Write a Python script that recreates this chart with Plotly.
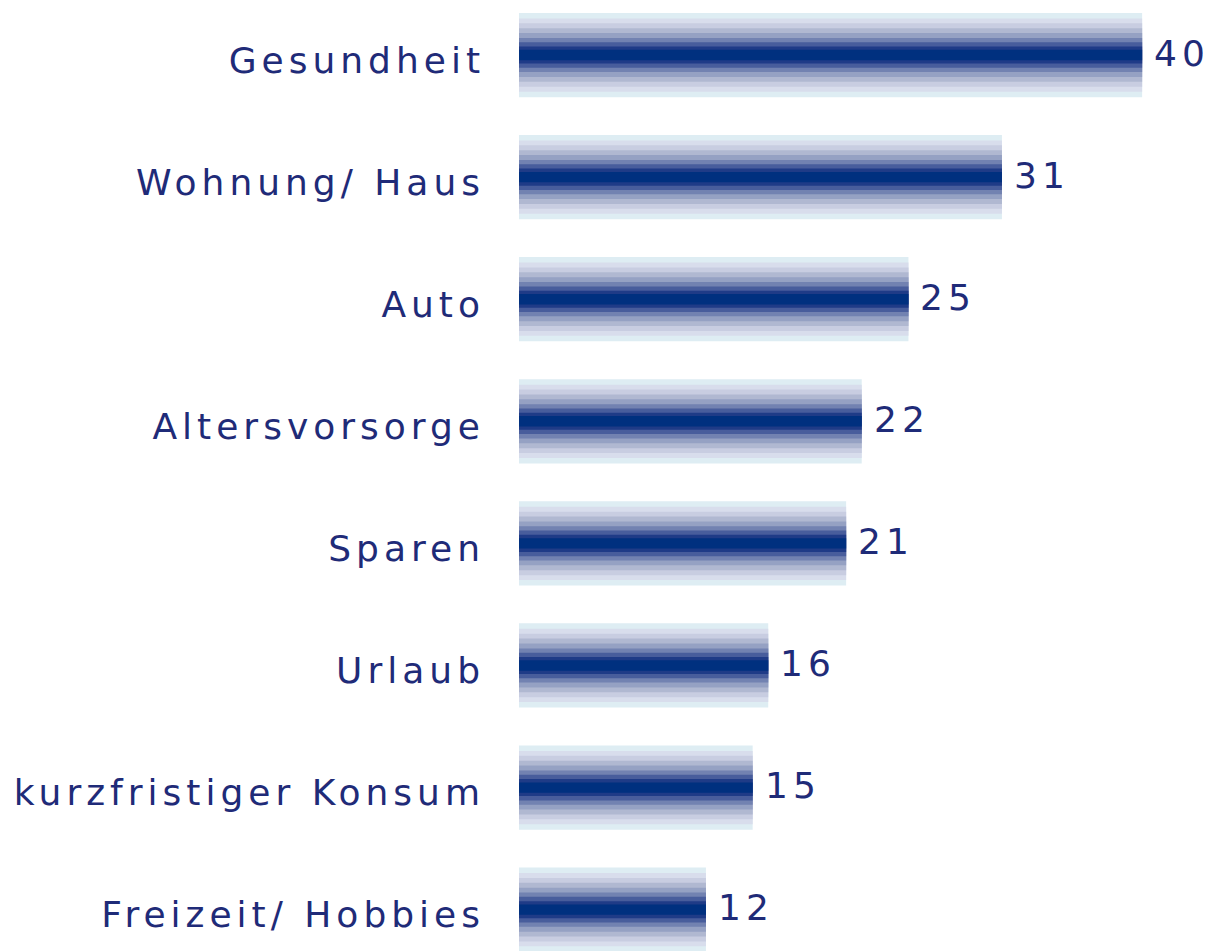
import plotly.graph_objects as go

categories = ["Gesundheit", "Wohnung/ Haus", "Auto", "Altersvorsorge", "Sparen",
              "Urlaub", "kurzfristiger Konsum", "Freizeit/ Hobbies"]
values = [40, 31, 25, 22, 21, 16, 15, 12]

# gradient layers (outer -> inner)
layer_widths = [0.69, 0.60, 0.52, 0.44, 0.36, 0.28, 0.21, 0.14, 0.085]
layer_colors = ["#deedf3", "#d8ddec", "#c8cde1", "#b0b8d1", "#95a1c3",
                "#7282b1", "#485d9c", "#1f3b87", "#00307f"]

TEXT = "#1f2b78"
FONT = "DejaVu Sans"

fig = go.Figure()
for w, c in zip(layer_widths, layer_colors):
    fig.add_trace(go.Bar(
        x=values, y=categories, orientation="h",
        width=w, marker=dict(color=c, line=dict(width=0)),
        hoverinfo="skip", showlegend=False,
    ))

for v, cat in zip(values, categories):
    fig.add_annotation(x=v, y=cat, text=str(v), showarrow=False,
                       xanchor="left", yanchor="middle", xshift=15, yshift=2,
                       font=dict(family=FONT, size=36, color=TEXT))

fig.add_shape(type="line", xref="paper", yref="paper", x0=0.999, x1=0.999, y0=0, y1=1,
              line=dict(color="#f4c0c0", width=1))

fig.update_layout(
    width=1211, height=951,
    margin=dict(l=511, r=13, t=0, b=0),
    barmode="overlay",
    plot_bgcolor="white", paper_bgcolor="white",
    font=dict(family=FONT, size=36, color=TEXT),
    xaxis=dict(range=[0, 44.1], visible=False, showgrid=False, zeroline=False),
    yaxis=dict(type="category", categoryorder="array", categoryarray=categories,
               range=[7.404, -0.385], showgrid=False, zeroline=False, showline=False,
               ticks="", ticklabelstandoff=33, ticklabelshift=-5,
               tickfont=dict(family=FONT, size=36, color=TEXT)),
)

post = """
var gd = document.getElementById('{plot_id}');
function spacing() {
  gd.querySelectorAll('.ytick text, .annotation-text').forEach(function (t) {
    t.style.letterSpacing = '5px';
  });
}
spacing();
gd.on('plotly_afterplot', spacing);
"""

fig.write_html("out.html", post_script=post)
